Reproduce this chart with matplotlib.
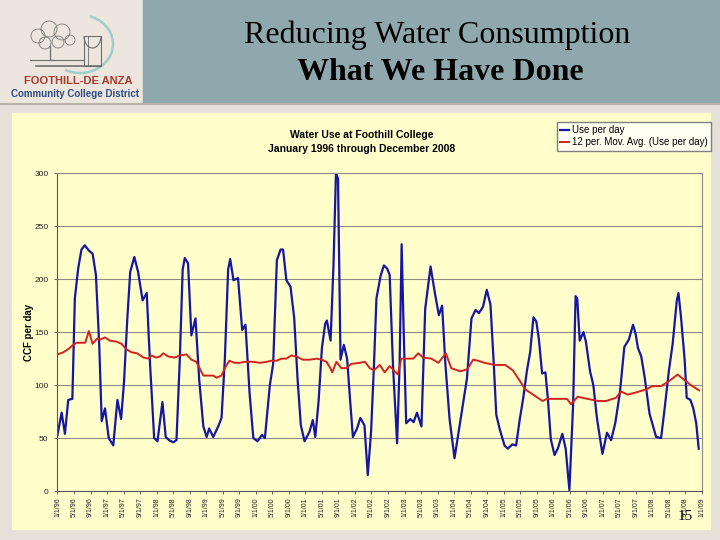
import matplotlib
matplotlib.use("Agg")
import matplotlib.pyplot as plt
from matplotlib.patches import Rectangle, Arc, Circle

# Water use, CCF per day. x = months since 1/1/96.
use_months = [0, 1.0, 1.8, 2.6, 3.6, 4.2, 5.0, 5.8, 6.6, 7.6, 8.5, 9.3, 10.1, 10.7,
              11.5, 12.4, 13.5, 14.5, 15.4, 16.1, 16.9, 17.6, 18.6, 19.5, 20.6, 21.6,
              22.4, 23.4, 24.2, 25.4, 26.2, 27.0, 28.0, 28.8, 29.6, 30.3, 30.8, 31.6,
              32.4, 33.4, 34.3, 35.3, 36.1, 36.7, 37.7, 38.9, 39.7, 40.5, 41.3, 41.8,
              42.6, 43.7, 44.7, 45.5, 46.5, 47.4, 48.4, 49.5, 50.2, 51.4, 52.2, 53.1,
              54.0, 54.6, 55.4, 56.4, 57.3, 58.1, 58.9, 59.8, 61.0, 61.8, 62.4, 63.2,
              64.0, 64.8, 65.2, 66.1, 66.8, 67.4, 67.9, 68.5, 69.3, 70.1, 70.8, 71.5,
              72.5, 73.3, 74.3, 75.1, 75.9, 76.6, 77.2, 78.2, 79.0, 79.8, 80.4, 81.2,
              82.2, 82.8, 83.3, 83.8, 84.4, 85.4, 86.2, 87.0, 88.1, 89.0, 90.3, 91.3,
              92.3, 93.1, 93.9, 94.9, 96.1, 97.1, 98.1, 99.1, 100.2, 101.2, 102.0,
              103.0, 103.9, 104.8, 105.6, 106.2, 107.0, 108.2, 109.0, 110.1, 111.0,
              111.9, 112.7, 113.6, 114.4, 115.2, 115.9, 116.5, 117.3, 118.1, 118.7,
              119.4, 120.3, 121.1, 122.2, 123.0, 123.9, 124.8, 125.4, 125.8, 126.4,
              127.3, 127.9, 128.9, 129.7, 130.6, 131.9, 133.0, 134.0, 135.0, 136.1,
              137.2, 138.3, 139.3, 139.9, 140.5, 141.3, 142.1, 143.3, 144.9, 146.1,
              146.9, 148.0, 148.9, 149.9, 150.3, 150.9, 151.8, 152.3, 153.2, 153.9,
              154.6, 155.2]
use_per_day = [53, 74, 54, 86, 87, 182, 210, 228, 232, 227, 224, 204, 138, 66,
               78, 50, 43, 86, 68, 103, 163, 207, 221, 207, 180, 187,
               120, 50, 47, 84, 51, 48, 46, 48, 124, 209, 220, 215,
               147, 163, 105, 61, 51, 59, 51, 61, 69, 124, 209, 219,
               199, 201, 152, 157, 92, 50, 47, 53, 50, 100, 120, 218,
               228, 228, 199, 193, 163, 106, 62, 47, 56, 67, 51, 85,
               135, 158, 161, 142, 213, 300, 295, 124, 138, 125, 87, 51,
               59, 69, 62, 15, 56, 119, 182, 203, 213, 210, 204, 119,
               45, 119, 233, 150, 64, 68, 65, 74, 61, 172, 212, 188,
               166, 175, 119, 68, 31, 56, 81, 106, 163, 171, 168,
               174, 190, 176, 120, 72, 59, 43, 40, 44, 43,
               68, 87, 113, 131, 164, 160, 144, 111, 112, 87,
               49, 34, 40, 54, 40, 1, 81, 184, 182, 142,
               150, 141, 113, 100, 68, 35, 55, 48, 64, 92,
               136, 143, 157, 149, 135, 127, 108, 73, 51, 50,
               76, 114, 139, 180, 187, 165, 124, 88, 86, 78,
               64, 40]

avg_months = [0, 1.4, 2.6, 3.8, 4.6, 6.7, 7.6, 8.5, 9.6, 10.3, 11.5, 12.7, 14.3,
              15.5, 16.6, 17.9, 19.3, 20.8, 22.0, 22.8, 23.8, 24.8, 25.6, 26.8,
              28.4, 29.6, 31.2, 32.4, 33.6, 34.5, 35.3, 36.9, 37.7, 38.5, 39.7,
              40.5, 41.6, 42.9, 44.1, 45.3, 47.4, 49.0, 50.6, 51.8, 53.0, 54.2,
              55.4, 56.6, 57.8, 59.4, 61.1, 62.7, 63.9, 65.1, 65.9, 66.5, 67.5,
              68.7, 69.9, 71.1, 73.1, 74.4, 75.6, 76.6, 78.0, 79.2, 80.4, 82.4,
              83.2, 86.1, 87.3, 88.5, 90.5, 92.2, 94.0, 95.3, 97.5, 99.2, 100.6,
              101.8, 103.4, 104.6, 106.0, 108.4, 110.2, 111.9, 113.2, 115.5,
              117.4, 118.5, 120.7, 123.3, 124.3, 125.9, 128.3, 130.8, 132.8,
              135.2, 136.4, 138.0, 140.0, 142.5, 144.0, 146.1, 148.1, 150.1,
              151.7, 153.3, 155.3]
avg_per_day = [129, 131, 134, 138, 140, 140, 151, 139, 144, 143, 145, 142, 141,
               139, 134, 131, 130, 126, 125, 128, 126, 127, 130, 127,
               126, 128, 129, 124, 122, 115, 109, 109, 109, 107, 109,
               116, 123, 121, 121, 122, 122, 121, 122, 123, 123, 125,
               125, 128, 127, 124, 124, 125, 124, 122, 117, 112, 122,
               116, 116, 120, 121, 122, 116, 114, 119, 112, 118, 110,
               125, 125, 130, 126, 125, 121, 130, 116, 113, 115, 124,
               123, 121, 120, 119, 119, 114, 104, 96, 90,
               85, 87, 87, 87, 82, 89, 87, 85, 85,
               88, 94, 91, 93, 96, 99, 99, 104, 110,
               105, 100, 95]

y_ticks = [0, 50, 100, 150, 200, 250, 300]
tick_labels = ["1/1/96", "5/1/96", "9/1/96", "1/1/97", "5/1/97", "9/1/97",
               "1/1/98", "5/1/98", "9/1/98", "1/1/99", "5/1/99", "9/1/99",
               "1/1/00", "5/1/00", "9/1/00", "1/1/01", "5/1/01", "9/1/01",
               "1/1/02", "5/1/02", "9/1/02", "1/1/03", "5/1/03", "9/1/03",
               "1/1/04", "5/1/04", "9/1/04", "1/1/05", "5/1/05", "9/1/05",
               "1/1/06", "5/1/06", "9/1/06", "1/1/07", "5/1/07", "9/1/07",
               "1/1/08", "5/1/08", "9/1/08", "1/1/09"]

SANS = ["Liberation Sans", "DejaVu Sans"]
SERIF = ["Liberation Serif", "DejaVu Serif"]
CHART_BG = "#FFFFCC"

fig = plt.figure(figsize=(7.2, 5.4), dpi=100, facecolor="#E5E0D8")

# slide background, drawn in pixel coordinates
bg = fig.add_axes([0, 0, 1, 1])
bg.set_xlim(0, 720); bg.set_ylim(540, 0); bg.axis("off")
bg.add_patch(Rectangle((0, 0), 143, 103, color="#ECE6DE"))
bg.add_patch(Rectangle((143, 0), 577, 103, color="#8FA8AE"))
bg.plot([0, 720], [104, 104], color="#B9B3AA", lw=1.5)
bg.add_patch(Rectangle((12, 113), 698, 416, color=CHART_BG))

# logo: rough sketch of the tree / arch mark
bg.add_patch(Arc((80, 44), 66, 58, theta1=-70, theta2=120, color="#9ECFC6", lw=1.8))
bg.add_patch(Rectangle((84, 36), 17, 30, fill=False, ec="#6E6E6E", lw=0.8))
bg.add_patch(Arc((92.5, 36), 17, 24, theta1=0, theta2=180, color="#6E6E6E", lw=0.8))
bg.plot([88, 88], [36, 66], color="#6E6E6E", lw=0.6)
for cx, cy, r in [(38, 36, 7), (49, 29, 8), (62, 32, 8), (45, 43, 6), (58, 42, 6), (70, 40, 5)]:
    bg.add_patch(Circle((cx, cy), r, fill=False, ec="#7A7A7A", lw=0.6))
bg.plot([50, 50, 54], [46, 60, 60], color="#6E6E6E", lw=0.9)
bg.plot([30, 84], [60, 60], color="#6E6E6E", lw=0.8)
bg.plot([36, 101], [66, 66], color="#6E6E6E", lw=1.2)
bg.text(78, 81, "FOOTHILL-DE ANZA", ha="center", va="center", fontsize=8,
        fontweight="bold", color="#A83A2E", family=["Liberation Sans Narrow"] + SANS)
bg.text(75, 94, "Community College District", ha="center", va="center", fontsize=7,
        fontweight="bold", color="#2E4C84", family=["Liberation Sans Narrow"] + SANS)

bg.text(437, 35, "Reducing Water Consumption", ha="center", va="center",
        fontsize=23, family=SERIF)
bg.text(440, 73, "What We Have Done", ha="center", va="center",
        fontsize=23, fontweight="bold", family=SERIF)

bg.text(362, 135, "Water Use at Foothill College", ha="center", va="center",
        fontsize=7.5, fontweight="bold", family=SANS)
bg.text(362, 149, "January 1996 through December 2008", ha="center", va="center",
        fontsize=7.5, fontweight="bold", family=SANS)
bg.text(29, 332, "CCF per day", ha="center", va="center", rotation=90,
        fontsize=7, fontweight="bold", family=SANS)
bg.text(685, 517, "15", ha="center", va="center", fontsize=11, family=SERIF)

# the chart itself
ax = fig.add_axes([57.5 / 720, 1 - 491 / 540, (702 - 57.5) / 720, (491 - 173.3) / 540])
ax.set_facecolor(CHART_BG)
l1, = ax.plot(use_months, use_per_day, color="#1616A2", lw=1.6, label="Use per day")
l2, = ax.plot(avg_months, avg_per_day, color="#D42222", lw=1.4,
              label="12 per. Mov. Avg. (Use per day)")
ax.set_xlim(0, 156)
ax.set_ylim(0, 300)
ax.set_yticks(y_ticks)
ax.set_xticks(range(0, 157, 4))
ax.set_xticklabels(tick_labels, rotation=90, fontsize=5, family=SANS, color="#222222")
ax.set_yticklabels([str(v) for v in y_ticks], fontsize=6, family=SANS, color="#222222")
ax.grid(axis="y", color="#8C8C84", lw=0.8)
ax.set_axisbelow(True)
ax.tick_params(axis="both", length=2.5, width=0.6, color="#555555", pad=2)
ax.tick_params(axis="y", pad=4)
for side in ["top", "right"]:
    ax.spines[side].set_color("#8C8C84")
    ax.spines[side].set_linewidth(0.8)
for side in ["left", "bottom"]:
    ax.spines[side].set_color("#555555")
    ax.spines[side].set_linewidth(0.8)

fig.legend(handles=[l1, l2], loc="upper right", bbox_to_anchor=(711 / 720, 1 - 122 / 540),
           prop={"family": SANS, "size": 7}, frameon=True, fancybox=False,
           edgecolor="#808080", facecolor="#FFFFF2", framealpha=1,
           handlelength=0.9, handletextpad=0.3, borderpad=0.35, labelspacing=0.2,
           borderaxespad=0)

fig.savefig("out.png", dpi=100, facecolor=fig.get_facecolor())
